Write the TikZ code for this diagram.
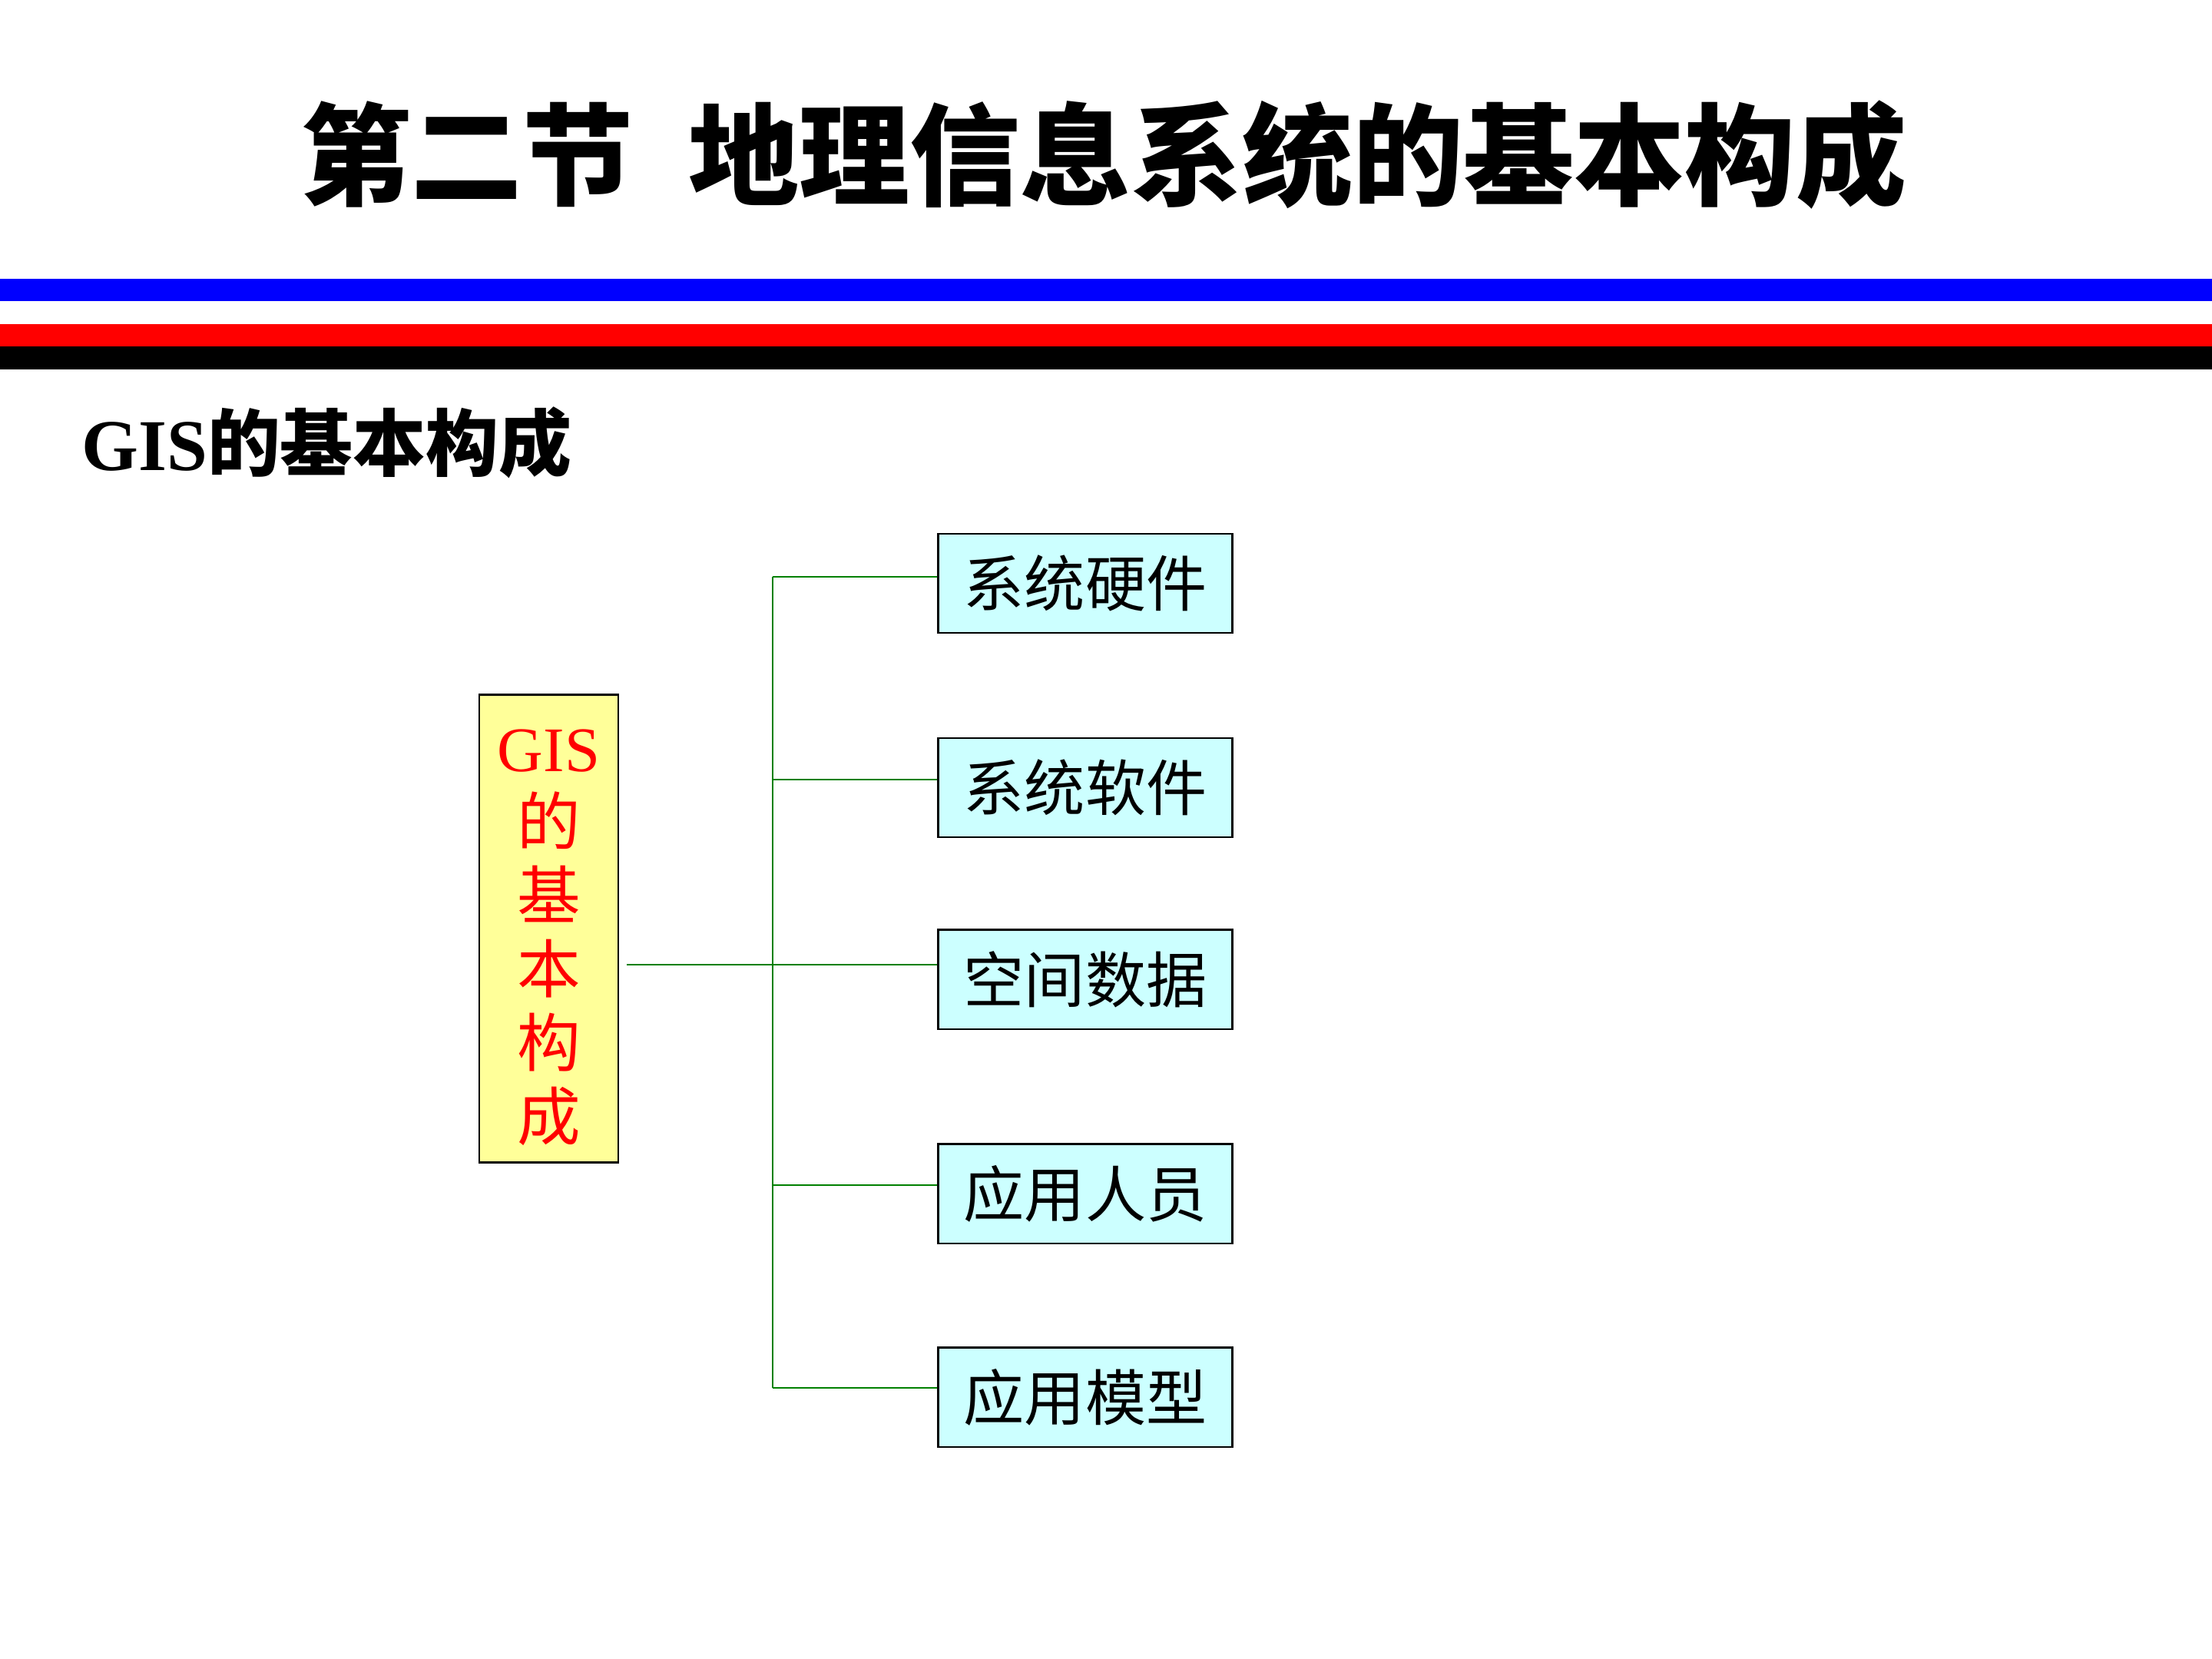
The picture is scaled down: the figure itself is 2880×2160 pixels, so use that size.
\documentclass[tikz,border=0pt]{standalone}
\usepackage{fontspec}
\setmainfont{Liberation Serif}
\newfontfamily\cjk{Noto Sans CJK SC}
\usetikzlibrary{positioning}
\definecolor{boxyellow}{HTML}{FFFF99}
\definecolor{boxcyan}{HTML}{CCFFFF}
\definecolor{linkgreen}{HTML}{008000}

\begin{document}
\begin{tikzpicture}[
    x=0.01cm, y=-0.01cm,
    line width=0.8pt,
    node distance=1.35cm,
    rootbox/.style={draw, fill=boxyellow, text=red, minimum width=1.81cm, minimum height=6.08cm, inner sep=0pt, align=center, font=\cjk\fontsize{23.5}{27.3}\selectfont},
    partbox/.style={draw, fill=boxcyan, minimum width=3.82cm, minimum height=1.29cm, inner sep=0pt, font=\cjk\fontsize{22.5}{27}\selectfont},
    link/.style={draw=linkgreen, line width=0.75pt}
]
\useasboundingbox (0,0) rectangle (2880,2160);

% heading and stripes
\node[anchor=base, font=\cjk\bfseries\fontsize{41}{49}\selectfont] (title) at (1437,256) {第二节\hspace{0.5em}地理信息系统的基本构成};
\fill[blue] (0,363) rectangle (2880,392);
\fill[red] (0,422) rectangle (2880,451);
\fill[black] (0,451) rectangle (2880,481);
\node[anchor=base west, inner sep=0pt, font=\bfseries\fontsize{27}{32}\selectfont] (sub) at (105,612) {GIS{\cjk 的基本构成}};

% boxes
\node[rootbox] (gis) at (714.5,1209) {\rule{0pt}{22pt}{\rmfamily GIS}\\的\\基\\本\\构\\成};
\node[partbox] (b1) at (1413,759.5) {系统硬件};
\node[partbox, below=1.34cm of b1] (b2) {系统软件};
\node[partbox, below=1.18cm of b2] (b3) {空间数据};
\node[partbox, below=1.47cm of b3] (b4) {应用人员};
\node[partbox, below=1.33cm of b4] (b5) {应用模型};

% connectors
\coordinate (j1) at (1006,751);
\coordinate (j2) at (1006,1015);
\coordinate (j3) at (1006,1256);
\coordinate (j4) at (1006,1543);
\coordinate (j5) at (1006,1807);
\draw[link] (j1) -- (j5);
\foreach \i in {1,...,5}
    \draw[link] (j\i) -- (j\i -| b\i.west);
\draw[link, shorten <=1mm] (gis.east |- j3) -- (j3);
\end{tikzpicture}
\end{document}
